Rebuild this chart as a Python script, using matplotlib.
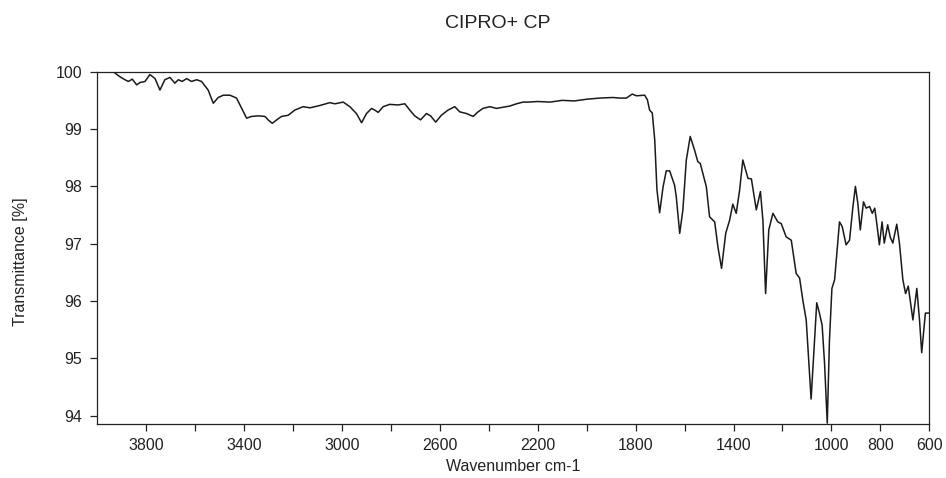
import matplotlib
matplotlib.use("Agg")
import matplotlib.pyplot as plt

plt.rcParams['font.family'] = ['Liberation Sans', 'DejaVu Sans']

title = "CIPRO+ CP"
xlabel = "Wavenumber cm-1"
ylabel = "Transmittance [%]"

wavenumber = [3996, 3955, 3935, 3907, 3887, 3873, 3857, 3839, 3826, 3805, 3785, 3764, 3744,
              3724, 3703, 3683, 3669, 3653, 3635, 3615, 3594, 3574, 3547, 3526, 3506, 3485,
              3458, 3431, 3410, 3390, 3369, 3342, 3315, 3302, 3285, 3267, 3247, 3220, 3193,
              3159, 3131, 3091, 3050, 3029, 2995, 2968, 2941, 2920, 2900, 2879, 2866, 2852,
              2832, 2805, 2771, 2743, 2723, 2703, 2679, 2655, 2638, 2617, 2594, 2567, 2539,
              2519, 2491, 2464, 2444, 2424, 2396, 2369, 2342, 2315, 2287, 2260, 2240, 2200,
              2150, 2100, 2050, 2000, 1947, 1893, 1865, 1838, 1814, 1797, 1763, 1752, 1743,
              1732, 1722, 1713, 1702, 1688, 1675, 1661, 1641, 1634, 1620, 1607, 1593, 1577,
              1559, 1546, 1536, 1511, 1498, 1477, 1464, 1449, 1432, 1416, 1403, 1389, 1375,
              1362, 1341, 1327, 1307, 1290, 1280, 1269, 1256, 1239, 1219, 1205, 1185, 1164,
              1144, 1130, 1117, 1103, 1092, 1083, 1069, 1060, 1049, 1038, 1028, 1017, 1008,
              998, 987, 978, 967, 956, 940, 926, 912, 902, 892, 882, 869, 858, 844, 833, 823,
              813, 804, 793, 784, 770, 760, 749, 733, 722, 708, 697, 686, 667, 651, 640, 631,
              616, 602]
transmittance = [100.0, 99.99, 100.0, 99.91, 99.86, 99.83, 99.87, 99.77, 99.81, 99.83, 99.95,
                 99.88, 99.68, 99.86, 99.9, 99.8, 99.86, 99.83, 99.88, 99.83, 99.86, 99.83,
                 99.68, 99.45, 99.55, 99.59, 99.59, 99.54, 99.36, 99.19, 99.22, 99.23, 99.22,
                 99.16, 99.1, 99.16, 99.22, 99.24, 99.33, 99.39, 99.37, 99.41, 99.46, 99.44,
                 99.47, 99.39, 99.27, 99.11, 99.27, 99.36, 99.33, 99.29, 99.39, 99.43, 99.42,
                 99.44, 99.33, 99.23, 99.16, 99.27, 99.23, 99.12, 99.24, 99.33, 99.39, 99.3,
                 99.27, 99.22, 99.3, 99.36, 99.39, 99.36, 99.38, 99.4, 99.44, 99.47, 99.47,
                 99.48, 99.47, 99.5, 99.49, 99.52, 99.54, 99.55, 99.54, 99.54, 99.61, 99.58,
                 99.59, 99.51, 99.33, 99.28, 98.81, 97.94, 97.54, 97.99, 98.27, 98.27, 98.02,
                 97.82, 97.18, 97.59, 98.46, 98.87, 98.63, 98.43, 98.4, 97.99, 97.47, 97.38,
                 96.95, 96.57, 97.18, 97.41, 97.69, 97.53, 97.94, 98.46, 98.14, 98.13, 97.59,
                 97.91, 97.41, 96.13, 97.24, 97.53, 97.38, 97.35, 97.12, 97.06, 96.48, 96.4,
                 96.02, 95.67, 94.91, 94.29, 95.32, 95.97, 95.79, 95.58, 94.91, 93.87, 95.32,
                 96.22, 96.37, 96.83, 97.38, 97.3, 96.98, 97.06, 97.65, 98.0, 97.7, 97.24,
                 97.73, 97.62, 97.65, 97.53, 97.62, 97.3, 96.98, 97.38, 97.01, 97.33, 97.12,
                 97.01, 97.34, 97.01, 96.37, 96.13, 96.26, 95.67, 96.22, 95.67, 95.1, 95.79,
                 95.79]

xticks = [3800, 3600, 3400, 3200, 3000, 2800, 2600, 2400, 2200, 2000, 1800, 1600, 1400,
          1200, 1000, 800, 600]
xticklabels = ["3800", "", "3400", "", "3000", "", "2600", "", "2200", "", "1800", "",
               "1400", "", "1000", "800", "600"]
yticks = [94, 95, 96, 97, 98, 99, 100]

W, H = 946, 478
fig = plt.figure(figsize=(W / 100, H / 100), dpi=100)
ax = fig.add_axes([97.3 / W, 1 - 424.3 / H, (929.3 - 97.3) / W, (424.3 - 71.7) / H])

ax.plot(wavenumber, transmittance, color='#1a1a1a', lw=1.1)
ax.set_xlim(4000, 600)
ax.set_ylim(93.85, 100)
ax.set_xticks(xticks)
ax.set_xticklabels(xticklabels)
ax.set_yticks(yticks)
ax.tick_params(direction='out', length=5, width=0.9, colors='#222222', labelsize=11.5,
               labelcolor='#222222')
ax.tick_params(axis='x', pad=5)
ax.tick_params(axis='y', pad=6)
for s in ax.spines.values():
    s.set_color('#222222')
    s.set_linewidth(0.9)

fig.text(498 / W, 1 - 23 / H, title, ha='center', va='center', fontsize=14, color='#222222')
ax.set_xlabel(xlabel, fontsize=11.5, color='#222222', labelpad=4)
fig.text(20 / W, 1 - 262 / H, ylabel, rotation=90, ha='center', va='center',
         fontsize=11.5, color='#222222')

fig.savefig("out.png", dpi=100)
